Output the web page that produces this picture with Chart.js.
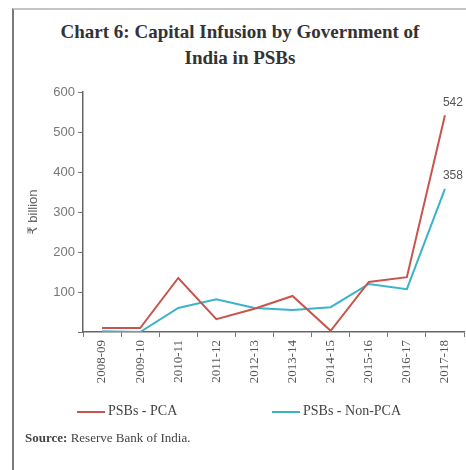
<!DOCTYPE html>
<html>
<head>
<meta charset="utf-8">
<script src="https://cdn.jsdelivr.net/npm/chart.js@4/dist/chart.umd.min.js"></script>
<style>
  html, body { margin: 0; padding: 0; background: #fff; }
  #wrap { position: relative; width: 466px; height: 470px; overflow: hidden; }
  #frame { position: absolute; left: 12px; top: 8px; width: 460px; height: 470px;
           border-left: 2px solid #7a7a7a; border-top: 2px solid #c4c4c4; }
  #title { position: absolute; left: 14px; right: 0; top: 19px; text-align: center;
           font: bold 19px "Liberation Serif", serif; color: #333; line-height: 26px; }
  #legend { position: absolute; top: 403px; left: 0; width: 466px; font: 14px "Liberation Serif", serif; color: #444; }
  .item { position: absolute; white-space: nowrap; }
  .item i { display: inline-block; width: 28px; height: 2px; vertical-align: middle; margin-right: 3px; }
  #source { position: absolute; left: 25px; top: 430px; font: 13px "Liberation Serif", serif; color: #444; }
  canvas { position: absolute; left: 0; top: 0; }
</style>
</head>
<body>
<div id="wrap">
  <div id="frame"></div>
  <div id="title">Chart 6: Capital Infusion by Government of<br>India in PSBs</div>
  <canvas id="chart" width="466" height="470"></canvas>
  <div id="legend"></div>
  <div id="source"><b>Source:</b> Reserve Bank of India.</div>
</div>
<script>
const years = ['2008-09', '2009-10', '2010-11', '2011-12', '2012-13', '2013-14', '2014-15', '2015-16', '2016-17', '2017-18'];
const pca = [10, 10, 135, 32, 58, 90, 3, 125, 137, 542];
const nonPca = [2, 0, 60, 82, 60, 55, 62, 120, 107, 358];
const seriesNames = ['PSBs - PCA', 'PSBs - Non-PCA'];
const seriesColors = ['#c8544e', '#3bb3c9'];
const yTicks = [100, 200, 300, 400, 500, 600];

const ctx = document.getElementById('chart').getContext('2d');

// value labels at the last point of each series
const endLabels = {
  id: 'endLabels',
  afterDatasetsDraw(chart) {
    const c = chart.ctx;
    c.save();
    c.font = '12px "Liberation Sans", sans-serif';
    c.fillStyle = '#555';
    c.textAlign = 'left';
    c.textBaseline = 'bottom';
    chart.data.datasets.forEach((ds, i) => {
      const meta = chart.getDatasetMeta(i);
      const last = meta.data[meta.data.length - 1];
      c.fillText(ds.data[ds.data.length - 1], last.x - 2, last.y - 7);
    });
    c.restore();
  }
};

const chart = new Chart(ctx, {
  type: 'line',
  data: {
    labels: years,
    datasets: [
      { label: seriesNames[0], data: pca, borderColor: seriesColors[0], borderWidth: 2, pointRadius: 0, tension: 0 },
      { label: seriesNames[1], data: nonPca, borderColor: seriesColors[1], borderWidth: 2, pointRadius: 0, tension: 0 }
    ]
  },
  options: {
    responsive: false,
    animation: false,
    layout: { padding: { left: 0, right: 2, top: 92, bottom: 0 } },
    plugins: { legend: { display: false }, tooltip: { enabled: false } },
    scales: {
      x: {
        offset: true,
        grid: { offset: true, drawOnChartArea: false, drawTicks: true, tickLength: 5, color: '#777' },
        border: { display: true, color: '#666', width: 1.5 },
        ticks: {
          minRotation: 90, maxRotation: 90, padding: 3,
          font: { family: '"Liberation Serif", serif', size: 13 }, color: '#555'
        },
        afterFit(scale) { scale.height = 138; }
      },
      y: {
        min: 0, max: 600,
        afterBuildTicks(scale) { scale.ticks = [0].concat(yTicks).map(v => ({ value: v })); },
        grid: { drawOnChartArea: false, drawTicks: true, tickLength: 5, color: '#777' },
        border: { display: true, color: '#666', width: 1.5 },
        ticks: {
          padding: 3, color: '#777',
          font: { family: '"Liberation Sans", sans-serif', size: 13 },
          callback: v => (v === 0 ? '' : v)
        },
        title: {
          display: true, text: '₹ billion', color: '#666', padding: { top: 26, bottom: 0 },
          font: { family: '"Liberation Sans", "DejaVu Sans", sans-serif', size: 13 }
        },
        afterFit(scale) { scale.width = 83; }
      }
    }
  },
  plugins: [endLabels]
});

// legend built from the dataset names and colours
const legend = document.getElementById('legend');
const legendX = [77, 272];
chart.data.datasets.forEach((ds, i) => {
  const d = document.createElement('div');
  d.className = 'item';
  d.style.left = legendX[i] + 'px';
  d.innerHTML = '<i style="background:' + ds.borderColor + '"></i>' + ds.label;
  legend.appendChild(d);
});
</script>
</body>
</html>
